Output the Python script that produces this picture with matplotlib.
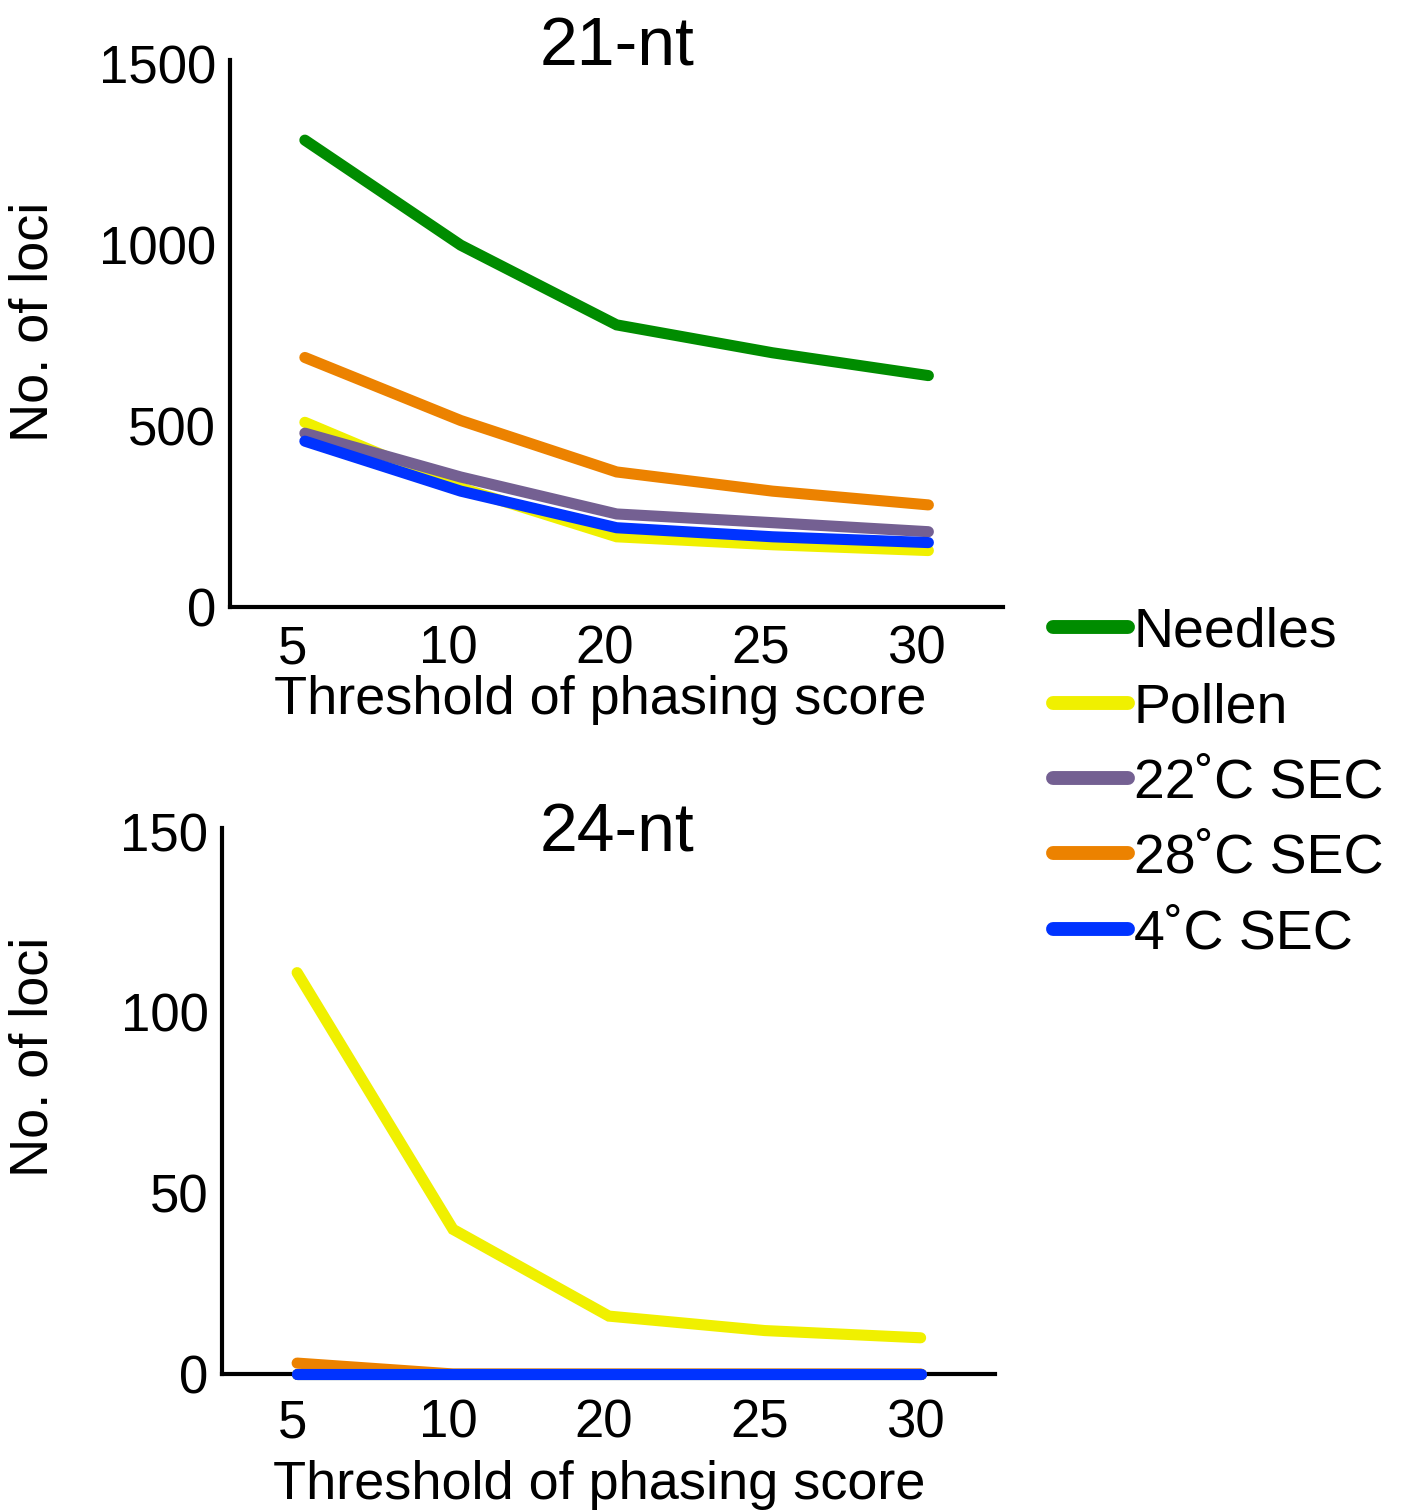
import numpy as np
import matplotlib.pyplot as plt
import matplotlib.transforms as mtransforms
from matplotlib.lines import Line2D

plt.rcParams['font.family'] = ['Liberation Sans', 'DejaVu Sans']

# Data
thresholds = ["5", "10", "20", "25", "30"]
series = ["Needles", "Pollen", "22\u02daC SEC", "28\u02daC SEC", "4\u02daC SEC"]
colors = ["#008c00", "#f0f000", "#746092", "#ec8200", "#0033ff"]

nt21_needles = [1290, 1000, 780, 703, 640]
nt21_pollen = [511, 330, 195, 173, 157]
nt21_22c = [481, 360, 258, 234, 209]
nt21_28c = [690, 516, 374, 321, 283]
nt21_4c = [459, 321, 220, 195, 179]

nt24_needles = [0, 0, 0, 0, 0]
nt24_pollen = [111, 40, 16, 12, 10]
nt24_22c = [0, 0, 0, 0, 0]
nt24_28c = [3, 0, 0, 0, 0]
nt24_4c = [0, 0, 0, 0, 0]

top_data = [nt21_needles, nt21_pollen, nt21_22c, nt21_28c, nt21_4c]
bot_data = [nt24_needles, nt24_pollen, nt24_22c, nt24_28c, nt24_4c]

fig = plt.figure(figsize=(14.07, 15.11), dpi=100)
ax1 = fig.add_axes([0.1635, 0.598, 0.5495, 0.362])
ax2 = fig.add_axes([0.158, 0.0907, 0.5495, 0.3613])

x = np.arange(len(thresholds))


def shifted(artist, dx_px):
    off = mtransforms.ScaledTranslation(dx_px / 100, 0, fig.dpi_scale_trans)
    artist.set_transform(artist.get_transform() + off)


def style(ax, data, title, ymax, yticks, title_pad, xpad, xlabelpad, ylab_xy,
          xlab_dx, title_dx, tick_dx):
    for vals, c in zip(data, colors):
        ax.plot(x, vals, color=c, lw=8, solid_capstyle='round',
                solid_joinstyle='miter', clip_on=False, zorder=3)
    ax.set_xlim(-0.48, 4.48)
    ax.set_ylim(0, ymax)
    ax.set_xticks(x)
    ax.set_xticklabels(thresholds)
    ax.set_yticks(yticks)
    for s in ["top", "right"]:
        ax.spines[s].set_visible(False)
    for s in ["left", "bottom"]:
        ax.spines[s].set_linewidth(3)
    ax.tick_params(length=0, labelsize=38)
    ax.tick_params(axis='x', pad=xpad)
    ax.tick_params(axis='y', pad=10)
    # tick labels sit a little left of the data points
    for lab in ax.get_xticklabels():
        shifted(lab, tick_dx)
    xl = ax.set_xlabel("Threshold of phasing score", fontsize=39, labelpad=xlabelpad)
    shifted(xl, xlab_dx)
    ax.set_ylabel("No. of loci", fontsize=39)
    ax.yaxis.set_label_coords(*ylab_xy)
    t = ax.set_title(title, fontsize=49, pad=title_pad, y=1.0)
    shifted(t, title_dx)


style(ax1, top_data, "21-nt", 1510, [0, 500, 1000, 1500], -4, 12, 1,
      (-0.2225, 0.522), -16, 0, -12)
style(ax2, bot_data, "24-nt", 151, [0, 50, 100, 150], -17, 18, 8,
      (-0.212, 0.581), -10, 8, -5)

handles = [Line2D([0], [0], color=c, lw=10, solid_capstyle='round') for c in colors]
fig.legend(handles, series, loc="upper left", bbox_to_anchor=(0.713, 0.6315),
           frameon=False, fontsize=40, handlelength=1.35, handletextpad=0.1,
           labelspacing=0.42)

fig.savefig("out.png", dpi=100)
